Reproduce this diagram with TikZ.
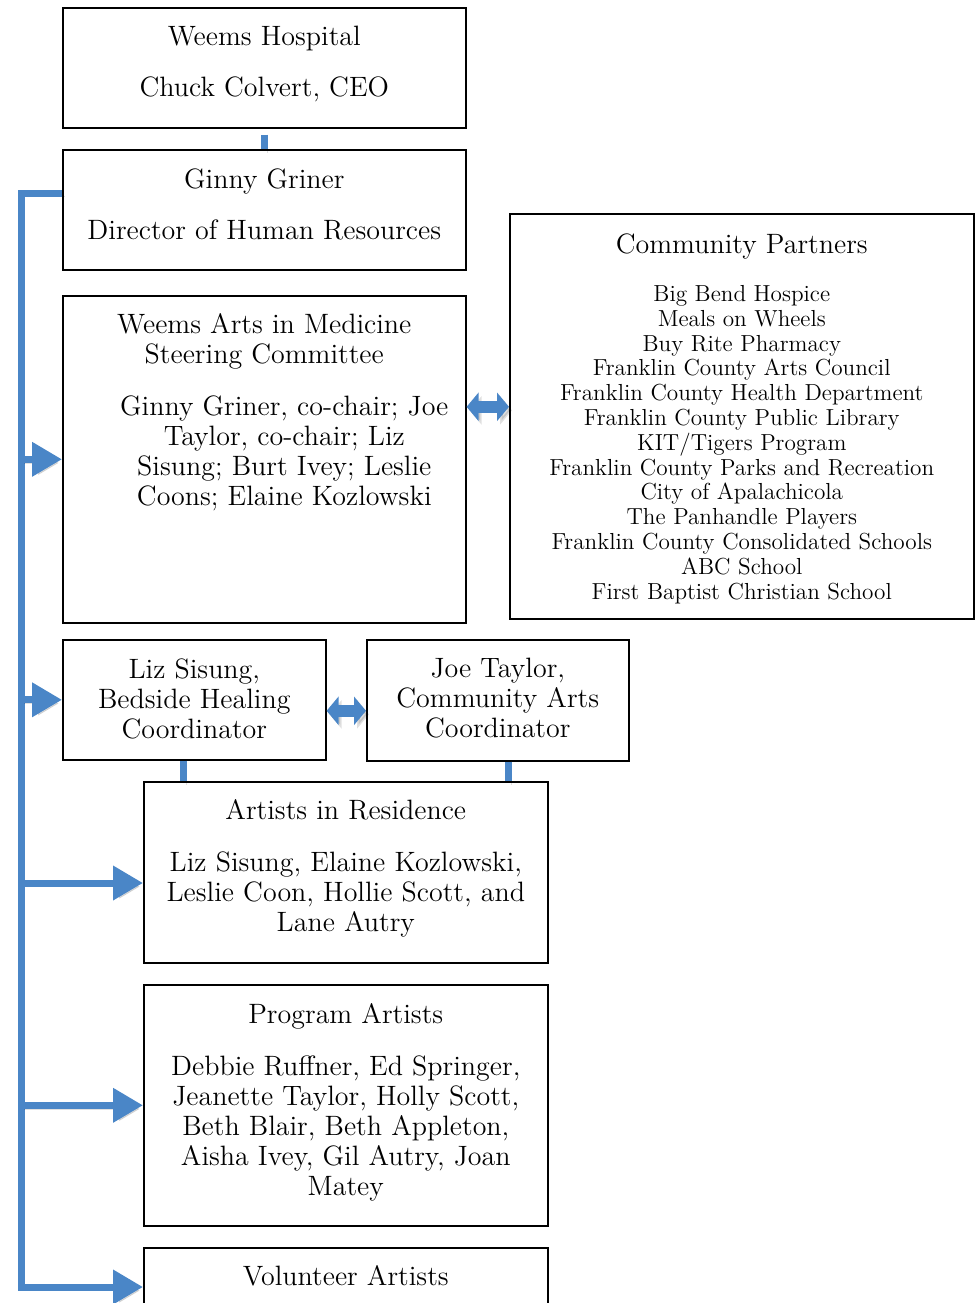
\documentclass[tikz,border=0pt]{standalone}
\usetikzlibrary{positioning,arrows.meta,calc}
\definecolor{orgblue}{RGB}{74,134,199}

\tikzset{
  box/.style={draw, line width=0.8pt, anchor=north west, inner sep=0pt},
  boxtext/.style={anchor=north, align=center, inner sep=0pt, font=\fontsize{14}{15}\selectfont},
  listtext/.style={anchor=north, align=center, inner sep=0pt, font=\fontsize{11.6}{12.4}\selectfont},
  shade line/.style={preaction={draw=black, opacity=0.12, transform canvas={shift={(1.5pt,-1.8pt)}}}},
  bus/.style={orgblue, line width=3.5pt, line join=miter, shade line},
  busarrow/.style={bus, -{Triangle[length=15pt,width=16.5pt]}},
  linkarrow/.style={orgblue, line width=6pt, shade line, {Triangle[length=6pt,width=14pt]}-{Triangle[length=6pt,width=14pt]}}
}

\begin{document}
\begin{tikzpicture}[x=0.5pt,y=-0.5pt]
    \useasboundingbox (0,0) rectangle (976,1303);
    \clip (0,0) rectangle (976,1303);

    % Boxes
    \node[box, minimum width=201.5pt, minimum height=60pt] (hosp) at (62,7) {};
    \node[box, minimum width=201.5pt, minimum height=60pt] (ginny) at (62,149) {};
    \node[box, minimum width=201.5pt, minimum height=163.5pt] (steer) at (62,295) {};
    \node[box, minimum width=232pt, minimum height=202.5pt] (partners) at (509,213) {};
    \node[box, minimum width=131.5pt, minimum height=60pt] (liz) at (62,639) {};
    \node[box, minimum width=131pt, minimum height=60.5pt] (joe) at (366,639) {};
    \node[box, minimum width=202pt, minimum height=90.5pt] (res) at (143,781) {};
    \node[box, minimum width=202pt, minimum height=120.5pt] (prog) at (143,984) {};
    \node[box, minimum width=202pt, minimum height=40pt] (vol) at (143,1247) {};

    % Texts
    \node[boxtext] (hosptext) at ([yshift=-9.5pt]hosp.north) {Weems Hospital\\[10.5pt]Chuck Colvert, CEO};
    \node[boxtext] (ginnytext) at ([yshift=-9.5pt]ginny.north) {Ginny Griner\\[10.5pt]Director of Human Resources};
    \node[boxtext] (steertitle) at ([yshift=-9pt]steer.north) {Weems Arts in Medicine\\Steering Committee};
    \node[boxtext] (steernames) at ([xshift=10pt,yshift=-50pt]steer.north)
        {Ginny Griner, co-chair; Joe\\Taylor, co-chair; Liz\\Sisung; Burt Ivey; Leslie\\Coons; Elaine Kozlowski};
    \node[boxtext] (partnerstitle) at ([yshift=-10pt]partners.north) {Community Partners};
    \node[listtext] (partnerslist) at ([yshift=-36pt]partners.north)
        {Big Bend Hospice\\Meals on Wheels\\Buy Rite Pharmacy\\Franklin County Arts Council\\
         Franklin County Health Department\\Franklin County Public Library\\KIT/Tigers Program\\
         Franklin County Parks and Recreation\\City of Apalachicola\\The Panhandle Players\\
         Franklin County Consolidated Schools\\ABC School\\First Baptist Christian School};
    \node[boxtext] (liztext) at ([yshift=-9.5pt]liz.north) {Liz Sisung,\\Bedside Healing\\Coordinator};
    \node[boxtext] (joetext) at ([yshift=-9.5pt]joe.north) {Joe Taylor,\\Community Arts\\Coordinator};
    \node[boxtext] (restext) at ([yshift=-9pt]res.north)
        {Artists in Residence\\[11pt]Liz Sisung, Elaine Kozlowski,\\Leslie Coon, Hollie Scott, and\\Lane Autry};
    \node[boxtext] (progtext) at ([yshift=-9.5pt]prog.north)
        {Program Artists\\[11pt]Debbie Ruffner, Ed Springer,\\Jeanette Taylor, Holly Scott,\\Beth Blair, Beth Appleton,\\Aisha Ivey, Gil Autry, Joan\\Matey};
    \node[boxtext] (voltext) at ([yshift=-9pt]vol.north) {Volunteer Artists};

    % Bus on the left
    \coordinate (bustop) at (21,193);
    \coordinate (busbot) at (21,1287);
    \draw[bus, shorten <=3pt] (hosp.south) -- (ginny.north);
    \draw[busarrow] (ginny.west |- bustop) -- (bustop) -- (busbot) -- (busbot -| vol.west);
    \draw[busarrow] (bustop |- steer.west) -- (steer.west);
    \draw[busarrow] (bustop |- liz.west) -- (liz.west);
    \draw[busarrow] (bustop |- 0,883) -- (res.west |- 0,883);
    \draw[busarrow] (bustop |- prog.west) -- (prog.west);

    % Coordinators to residence
    \draw[bus] ([xshift=-5.25pt]liz.south) -- ([xshift=-5.25pt]liz.south |- res.north);
    \draw[bus] ([xshift=5.5pt]joe.south) -- ([xshift=5.5pt]joe.south |- res.north);

    % Two-way links
    \draw[linkarrow] ([yshift=26.25pt]steer.east) -- ([yshift=26.25pt]steer.east -| partners.west);
    \draw[linkarrow] ([yshift=-5.5pt]liz.east) -- ([yshift=-5.5pt]liz.east -| joe.west);
\end{tikzpicture}
\end{document}
